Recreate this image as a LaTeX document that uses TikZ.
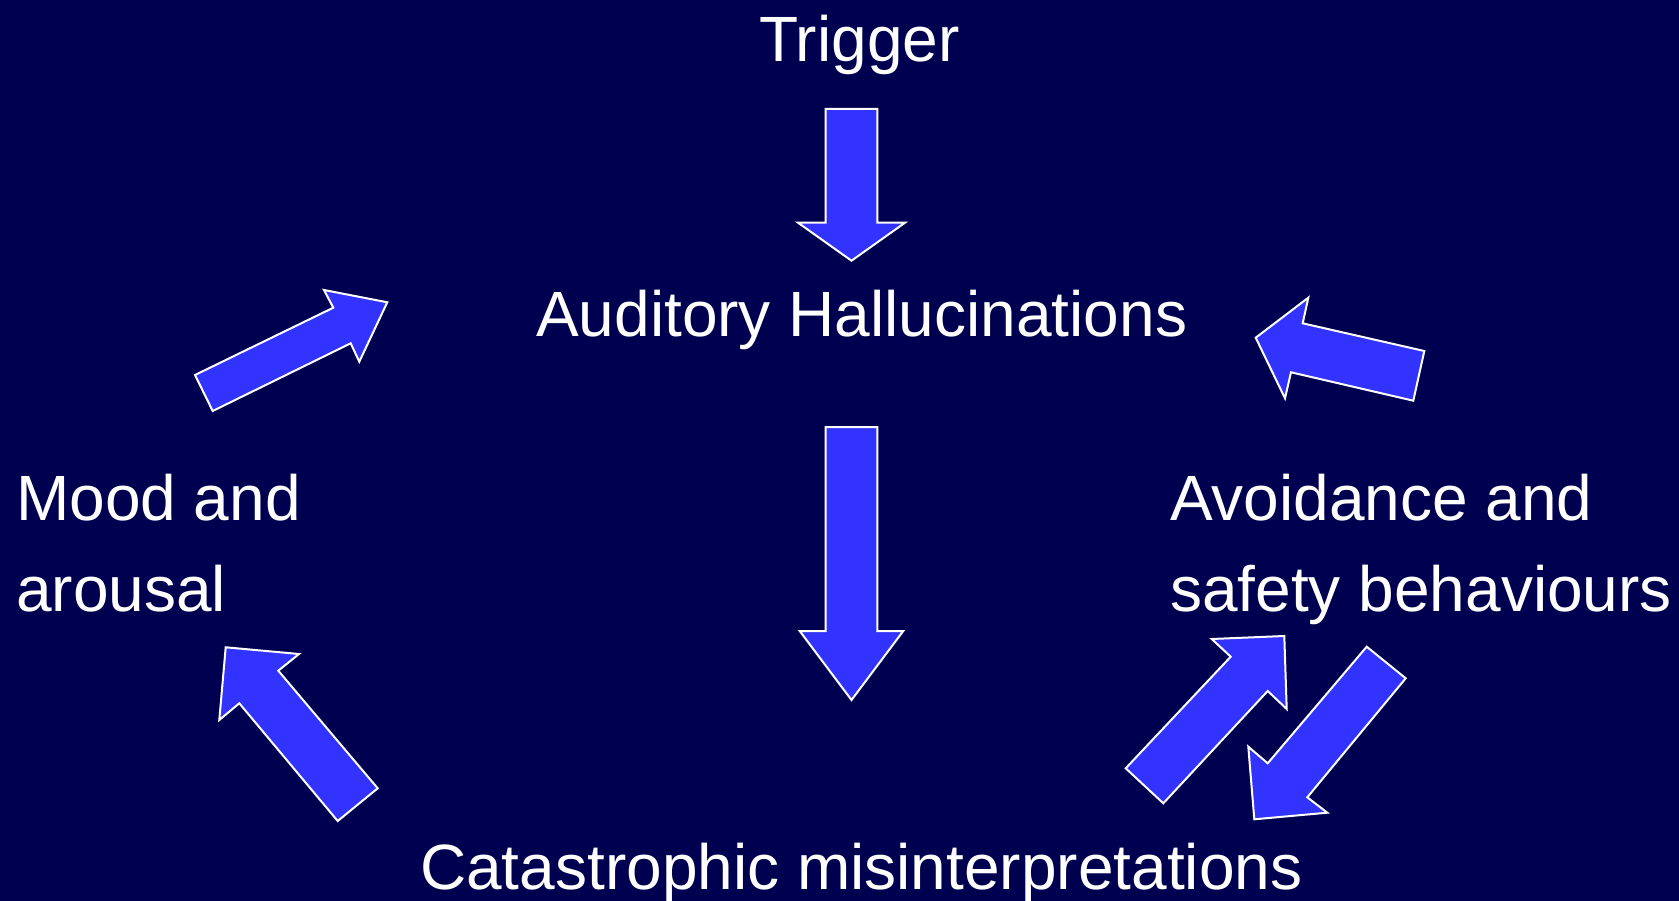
\documentclass[tikz,border=0pt]{standalone}
\usepackage{fontspec}
\setmainfont{Liberation Sans}
\definecolor{bgnavy}{RGB}{0,0,80}
\definecolor{arrowblue}{RGB}{51,51,255}
\begin{document}
\begin{tikzpicture}[x=1pt,y=-1pt,
  blockarrow/.style={fill=arrowblue, draw=white, line width=2pt, line join=miter},
  label/.style={text=white, inner sep=0pt, anchor=base west, font=\fontsize{64}{91}\selectfont, align=left}]
\fill[bgnavy] (0,0) rectangle (1679,901);
\useasboundingbox (0,0) rectangle (1679,901);
% text nodes
\node[label] (trigger) at (759,62) {Trigger};
\node[label] (hall) at (536,337) {Auditory Hallucinations};
\node[label, anchor=north west] (mood) at (16,474) {Mood and\\arousal};
\node[label, anchor=north west] (avoid) at (1170,474) {Avoidance and\\safety behaviours};
\node[label] (cata) at (420,889) {Catastrophic misinterpretations};
% block arrows
\draw[blockarrow] (825.7,109) -- (877.3,109) -- (877.3,222.7) -- (905,222.7) -- (851.5,260.7) -- (798,222.7) -- (825.7,222.7) -- cycle;
\draw[blockarrow] (825.7,427) -- (877.3,427) -- (877.3,631) -- (903.3,631) -- (851.5,700) -- (799.7,631) -- (825.7,631) -- cycle;
\draw[blockarrow] (195,375) -- (333.3,307.7) -- (324,290) -- (387.3,302.3) -- (359.3,361.7) -- (350.7,343.3) -- (212.7,411) -- cycle;
\draw[blockarrow] (1255.7,337.7) -- (1308.3,297.7) -- (1302.7,323.3) -- (1424.3,351) -- (1413.3,400.7) -- (1291,372.3) -- (1285,398.3) -- cycle;
\draw[blockarrow] (225.7,647.3) -- (299,654) -- (278.3,670.7) -- (377.7,788.3) -- (337.7,821) -- (239.3,703.3) -- (219.3,720) -- cycle;
\draw[blockarrow] (1125.7,768.3) -- (1230.7,656.7) -- (1211.7,639) -- (1284.3,636) -- (1286.7,709) -- (1267.7,691) -- (1163.3,803.3) -- cycle;
\draw[blockarrow] (1366.7,646.7) -- (1405.7,678.3) -- (1307.3,797.3) -- (1327.3,812.7) -- (1254.3,819.3) -- (1248.3,746.7) -- (1267.7,763.3) -- cycle;
\end{tikzpicture}
\end{document}
